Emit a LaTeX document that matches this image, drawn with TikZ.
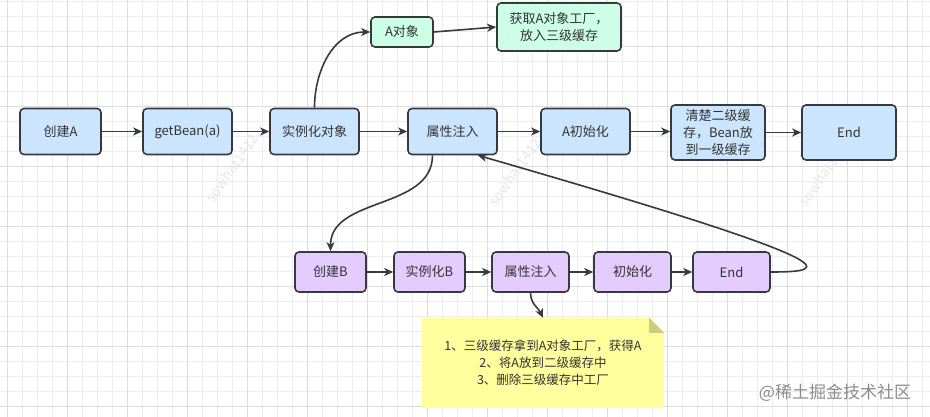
\documentclass[tikz,border=0pt]{standalone}
\usepackage{fontspec}
\setmainfont{Noto Sans CJK SC}
\usetikzlibrary{arrows.meta,backgrounds}
\definecolor{edge}{HTML}{36393D}
\definecolor{txt}{HTML}{333333}
\definecolor{bluef}{HTML}{CCE5FF}
\definecolor{greenf}{HTML}{CCFFE6}
\definecolor{purplef}{HTML}{E5CCFF}
\definecolor{notef}{HTML}{FFFF9E}
\definecolor{foldf}{HTML}{CDCD78}
\definecolor{gridminor}{HTML}{EDEDED}
\definecolor{gridmajor}{HTML}{DCDCDC}

\begin{document}
\begin{tikzpicture}[x=1pt,y=1pt,
box/.style={rectangle,rounded corners=4pt,draw=edge,line width=1.6pt,text=txt,font=\fontsize{13}{17}\selectfont,align=center,inner sep=2pt},
bbox/.style={box,fill=bluef,minimum height=46pt},
gbox/.style={box,fill=greenf},
pbox/.style={box,fill=purplef,minimum height=40pt},
notebox/.style={rectangle,text=txt,font=\fontsize{12.5}{17}\selectfont,align=center,minimum width=242pt,minimum height=90pt},
wm/.style={text=black!9,font=\fontsize{14}{14}\selectfont},
arr/.style={-{Stealth[length=9pt,width=8pt,inset=2.5pt]},draw=edge,line width=1.6pt}]
	\useasboundingbox (0,0) rectangle (930,-417);
	%grid
	\begin{scope}[on background layer]
	\fill[white] (0,0) rectangle (930,-417);
	\foreach \gx in {7,22,...,922} \draw[gridminor,line width=0.8pt] (\gx,0) -- (\gx,-417);
	\foreach \gy in {1,16,...,416} \draw[gridminor,line width=0.8pt] (0,-\gy) -- (930,-\gy);
	\foreach \gx in {7,67,...,907} \draw[gridmajor,line width=0.8pt] (\gx,0) -- (\gx,-417);
	\foreach \gy in {46,106,...,406} \draw[gridmajor,line width=0.8pt] (0,-\gy) -- (930,-\gy);
	\end{scope}
	%watermarks
	\node[wm,rotate=55] (wm1) at (232,-168) {sowhat1412};
	\node[wm,rotate=55] (wm2) at (515,-172) {sowhat1412};
	\node[wm,rotate=55] (wm3) at (825,-172) {sowhat1412};
	\node[text=black!45,font=\fontsize{17}{17}\selectfont] (jj) at (835,-393) {@稀土掘金技术社区};

	%bean A
	\node[bbox,minimum width=81pt] (creA) at (60.5,-131.5) {创建A};
	\node[bbox,minimum width=89pt] (getA) at (187.5,-131.5) {getBean(a)};
	\node[bbox,minimum width=89pt] (instA) at (314.5,-131.5) {实例化对象};
	\node[bbox,minimum width=89pt] (propA) at (452.5,-131.5) {属性注入};
	\node[bbox,minimum width=89pt] (initA) at (585.5,-131.5) {A初始化};
	\node[bbox,minimum width=94pt,minimum height=55pt] (clrA) at (718,-132.5) {清楚二级缓\\存，Bean放\\到一级缓存};
	\node[bbox,minimum width=94pt,minimum height=55pt] (endA) at (849,-132.5) {End};
	%early object
	\node[gbox,minimum width=62pt,minimum height=30pt] (objA) at (402,-32) {A对象};
	\node[gbox,minimum width=124pt,minimum height=48pt] (facA) at (559,-27) {获取A对象工厂，\\放入三级缓存};
	%bean B
	\node[pbox,minimum width=71pt] (creB) at (330.5,-272) {创建B};
	\node[pbox,minimum width=71pt] (instB) at (429.5,-272) {实例化B};
	\node[pbox,minimum width=77pt] (propB) at (530.5,-272) {属性注入};
	\node[pbox,minimum width=77pt] (initB) at (632.5,-272) {初始化};
	\node[pbox,minimum width=77pt] (endB) at (731.5,-272) {End};
	%note
	\node[notebox] (note) at (543,-363) {1、三级缓存拿到A对象工厂，获得A\\2、将A放到二级缓存中\\3、删除三级缓存中工厂};
	\begin{scope}[on background layer]
	\fill[notef] (note.north west) -- ([xshift=-15pt]note.north east) -- ([yshift=-15pt]note.north east) -- (note.south east) -- (note.south west) -- cycle;
	\fill[foldf] ([xshift=-15pt]note.north east) -- ([yshift=-15pt]note.north east) -- ([xshift=-15pt,yshift=-15pt]note.north east) -- cycle;
	\end{scope}

	\draw[arr] (creA.east) -- (getA.west);
	\draw[arr] (getA.east) -- (instA.west);
	\draw[arr] (instA.east) -- (propA.west);
	\draw[arr] (propA.east) -- (initA.west);
	\draw[arr] (initA.east) -- (initA.east -| clrA.west);
	\draw[arr] (clrA.east) -- (endA.west);
	\draw[arr] (instA.north) to[out=90,in=180] (objA.west);
	\draw[arr] (objA.east) -- (facA.west);
	\draw[arr] ([xshift=-20pt]propA.south) to[out=-90,in=90] (creB.north);
	\draw[arr] (creB.east) -- (instB.west);
	\draw[arr] (instB.east) -- (propB.west);
	\draw[arr] (propB.east) -- (initB.west);
	\draw[arr] (initB.east) -- (endB.west);
	\draw[arr] (propB.south) to[out=-90,in=115] (note.north);
	\draw[arr] (endB.east) .. controls +(62,0) and +(378,-109) .. ([xshift=-20pt]propA.south east);
\end{tikzpicture}
\end{document}
